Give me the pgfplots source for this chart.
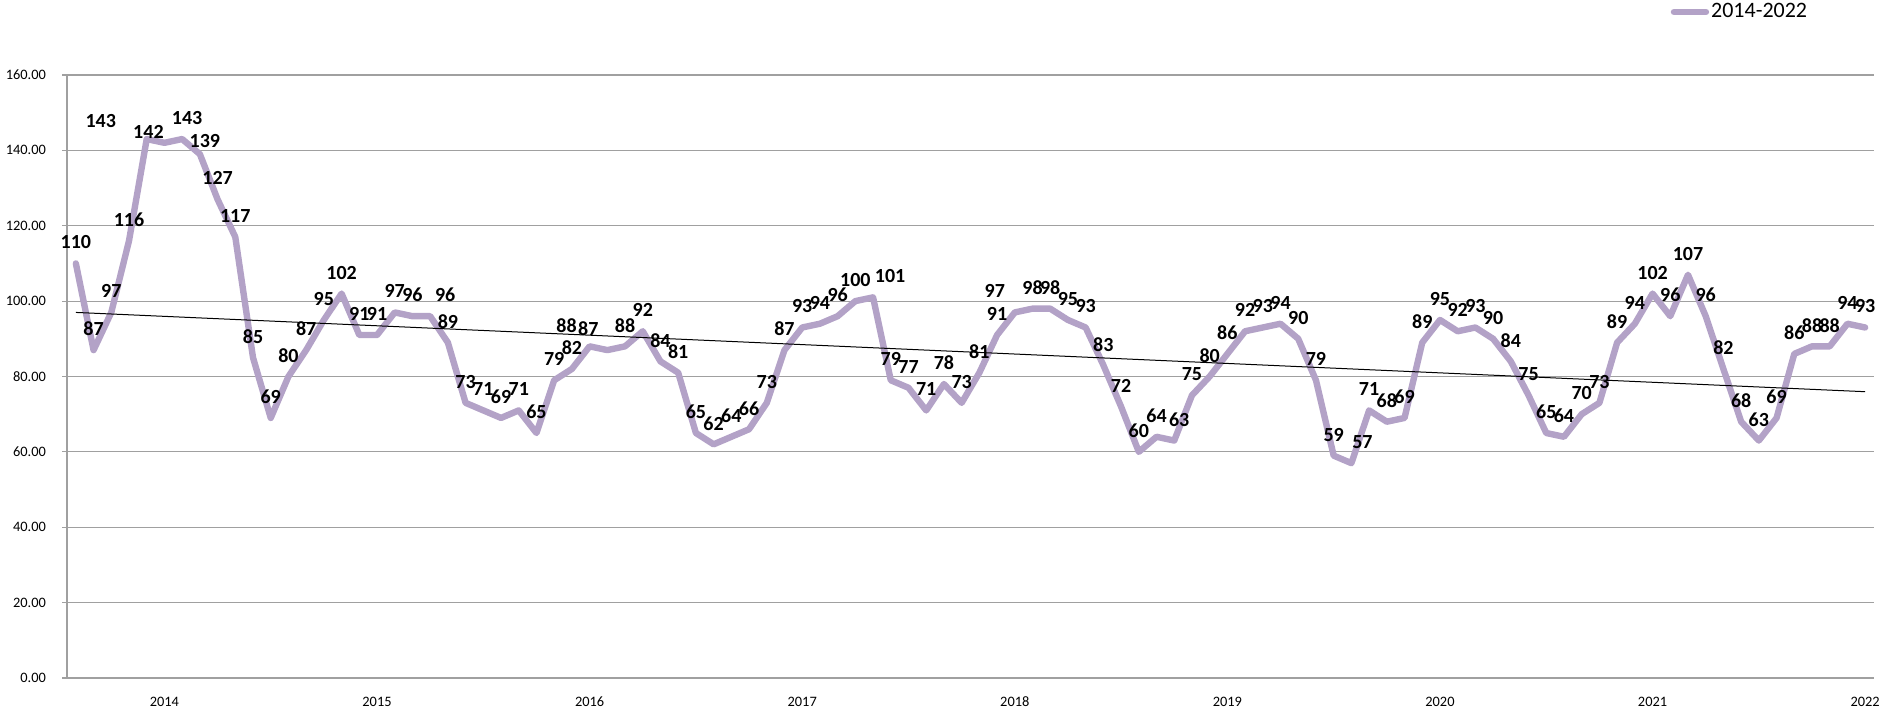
\documentclass[border=0pt]{standalone}
\usepackage{fontspec}
\setmainfont{Carlito}
\usepackage{pgfplots}
\usepackage{pgfplotstable}
\pgfplotsset{compat=1.18}
\definecolor{lav}{RGB}{179,162,199}
\definecolor{gridc}{RGB}{160,160,160}
\pgfplotstableread{
x y dx dy
0 110 0 10.5
1 87 0 10.5
2 97 0 10.5
3 116 0 10.5
4 143 -23 9
5 142 -8 5.5
6 143 2.5 10.5
7 139 2.5 6.5
8 127 0 10.5
9 117 0 10.5
10 85 0 10.5
11 69 0 10.5
12 80 0 10.5
13 87 0 10.5
14 95 0 10.5
15 102 0 10.5
16 91 0 10.5
17 91 0 10.5
18 97 0 10.5
19 96 0 10.5
20 96 7.5 10.5
21 89 0 10.5
22 73 0 10.5
23 71 0 10.5
24 69 0 10.5
25 71 0 10.5
26 65 0 10.5
27 79 0 10.5
28 82 0 10.5
29 88 -11.5 10.5
30 87 -9.5 10.5
31 88 0 10.5
32 92 0 10.5
33 84 0 10.5
34 81 0 10.5
35 65 0 10.5
36 62 0 10.5
37 64 0 10.5
38 66 0 10.5
39 73 0 10.5
40 87 0 10.5
41 93 0 10.5
42 94 0 10.5
43 96 0 10.5
44 100 0 10.5
45 101 8.5 10.5
46 79 0 10.5
47 77 0 10.5
48 71 0 10.5
49 78 0 10.5
50 73 0 10.5
51 81 0 10.5
52 91 0 10.5
53 97 -10 10.5
54 98 0 10.5
55 98 0 10.5
56 95 0 10.5
57 93 0 10.5
58 83 0 10.5
59 72 0 10.5
60 60 0 10.5
61 64 0 10.5
62 63 2.5 10.5
63 75 0 10.5
64 80 0 10.5
65 86 0 10.5
66 92 0 10.5
67 93 0 10.5
68 94 0 10.5
69 90 0 10.5
70 79 0 10.5
71 59 0 10.5
72 57 5.5 10.5
73 71 0 10.5
74 68 0 10.5
75 69 0 10.5
76 89 0 10.5
77 95 0 10.5
78 92 0 10.5
79 93 0 10.5
80 90 0 10.5
81 84 0 10.5
82 75 0 10.5
83 65 0 10.5
84 64 0 10.5
85 70 0 10.5
86 73 0 10.5
87 89 0 10.5
88 94 0 10.5
89 102 0 10.5
90 96 0 10.5
91 107 0 10.5
92 96 0 10.5
93 82 0 10.5
94 68 0 10.5
95 63 0 10.5
96 69 0 10.5
97 86 0 10.5
98 88 0 10.5
99 88 0 10.5
100 94 0 10.5
101 93 0 10.5
}\data
\begin{document}
\begin{tikzpicture}
\path[use as bounding box] (0,0) rectangle (951pt,355pt);
\begin{axis}[
  at={(33.5pt,16pt)}, anchor=south west,
  scale only axis, width=903.5pt, height=301.5pt,
  xmin=-0.5, xmax=101.5, ymin=0, ymax=160,
  axis lines=left,
  axis line style={-, gridc, line width=0.6pt},
  ytick={0,20,...,160},
  ymajorgrids, grid style={gridc, line width=0.6pt},
  ytick style={gridc, line width=0.6pt},
  tick align=outside, major tick length=2.5pt,
  xtick={5,17,29,41,53,65,77,89,101},
  xticklabels={2014,2015,2016,2017,2018,2019,2020,2021,2022},
  xtick style={draw=none},
  /pgf/number format/assume math mode=true,
  yticklabel style={font=\fontsize{7.2}{8}\selectfont, xshift=-4.5pt,
    /pgf/number format/.cd, fixed, fixed zerofill, precision=2},
  xticklabel style={font=\fontsize{7.2}{8}\selectfont, yshift=-3.5pt},
  clip=false,
  legend style={at={(0.9258,1.1045)}, anchor=center, draw=none, fill=none,
    font=\fontsize{11}{13}\selectfont, nodes={inner sep=1pt}},
  legend image code/.code={\draw[#1, line width=3.2pt, line cap=round] (0pt,0pt) -- (16pt,0pt);},
]
\addplot[lav, line width=3.2pt, line join=round, line cap=round] table[x=x, y=y] {\data};
\addlegendentry{2014-2022}
\addplot[black, line width=0.5pt, forget plot] table[x=x, y={create col/linear regression={y=y}}] {\data};
\addplot[draw=none, forget plot,
  nodes near coords={\pgfmathprintnumber[fixed, precision=0, assume math mode=true]{\pgfplotspointmeta}},
  visualization depends on={\thisrow{dx} \as \dx},
  visualization depends on={\thisrow{dy} \as \dy},
  every node near coord/.append style={anchor=center, xshift=\dx pt, yshift=\dy pt,
    font=\fontsize{10}{12}\selectfont\bfseries, inner sep=0pt}
] table[x=x, y=y] {\data};
\end{axis}
\end{tikzpicture}
\end{document}
